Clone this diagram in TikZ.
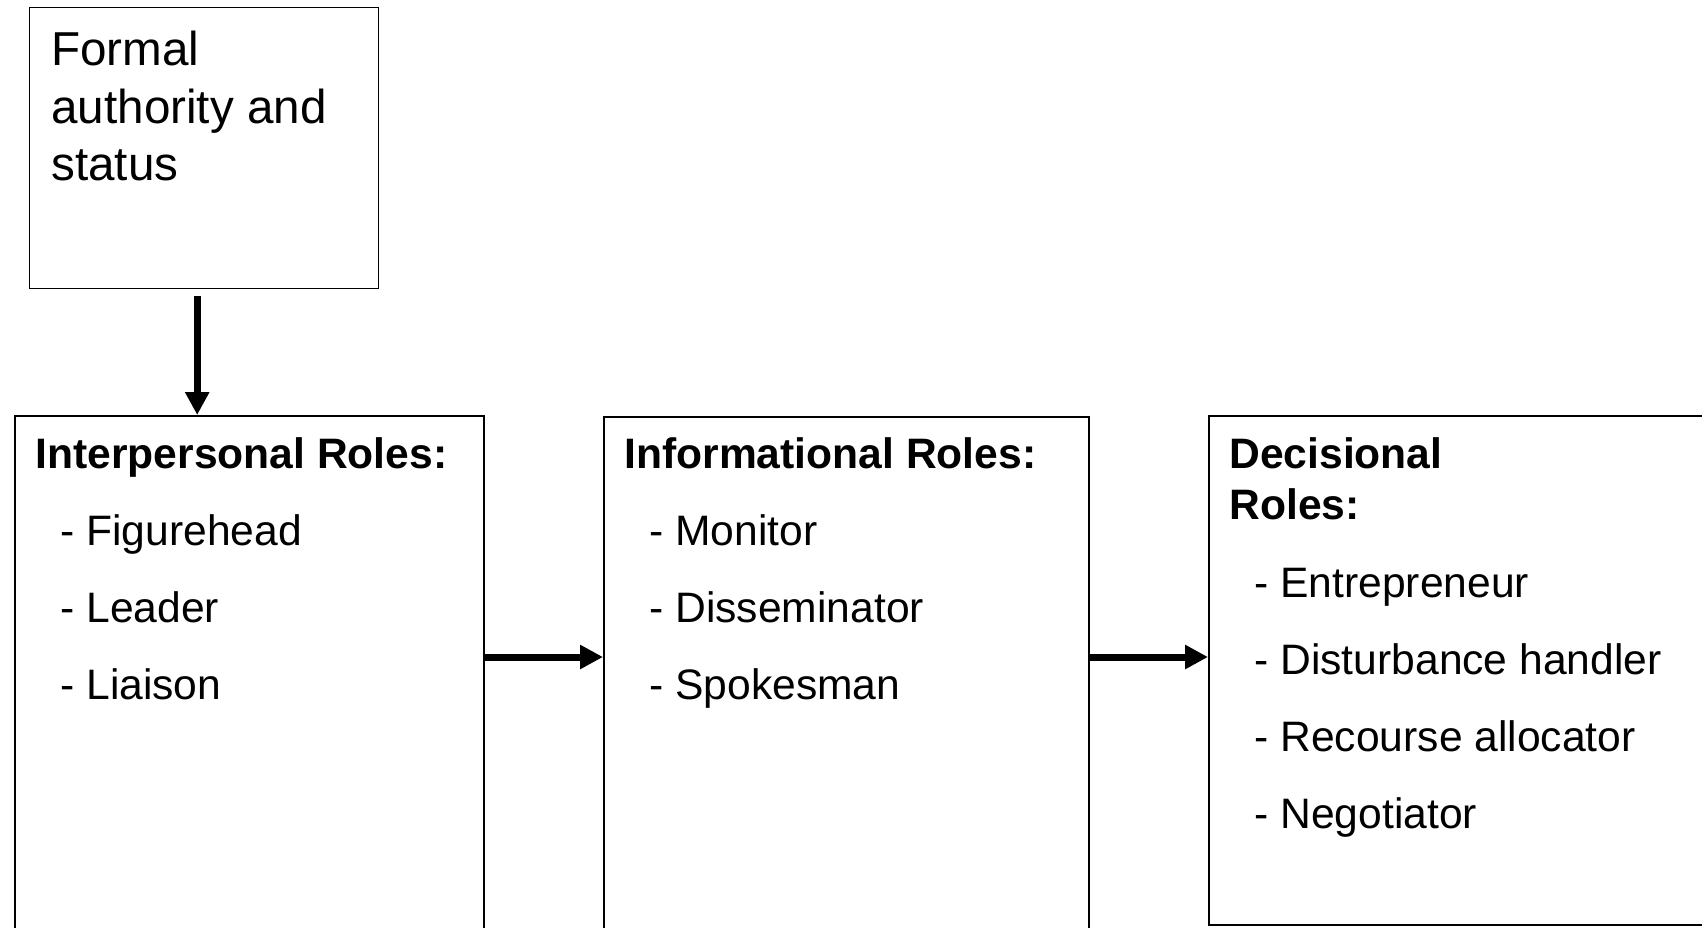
\documentclass[tikz,border=0pt]{standalone}
\usepackage{fontspec}
\setmainfont{Liberation Sans}
\usetikzlibrary{arrows.meta}
\tikzset{
  box/.style={draw, line width=0.85pt, rectangle, anchor=north west, inner sep=0pt},
  txt/.style={anchor=base west, inner sep=0pt, font=\fontsize{21.3pt}{26pt}\selectfont},
  ftxt/.style={anchor=base west, inner sep=0pt, font=\fontsize{23.8pt}{28pt}\selectfont},
  hd/.style={txt, font=\fontsize{21.3pt}{26pt}\selectfont\bfseries},
  arr/.style={line width=3.5pt, -{Triangle[length=11.5pt,width=11.5pt]}}
}
\begin{document}
\begin{tikzpicture}[x=0.5pt,y=-0.5pt]
\useasboundingbox (0,0) rectangle (1702,927);
\clip (0,0) rectangle (1702,927);

% boxes
\node[box, line width=0.7pt, minimum width=174.5pt, minimum height=140.5pt] (formal) at (29,7) {};
\node[box, minimum width=234.5pt, minimum height=280pt] (b1) at (14,415) {};
\node[box, minimum width=242.5pt, minimum height=280pt] (b2) at (603,416) {};
\node[box, minimum width=256pt, minimum height=254.5pt] (b3) at (1208,415) {};

% formal text
\node[ftxt] (f1) at (51,65) {Formal};
\node[ftxt] (f2) at (51,123) {authority and};
\node[ftxt] (f3) at (51,180) {status};

% box 1 text
\node[hd] (h1) at (35,468) {Interpersonal Roles:};
\node[txt] (i11) at (60,545) {- Figurehead};
\node[txt] (i12) at (60,622) {- Leader};
\node[txt] (i13) at (60,699) {- Liaison};

% box 2 text
\node[hd] (h2) at (624,468) {Informational Roles:};
\node[txt] (i21) at (649,545) {- Monitor};
\node[txt] (i22) at (649,622) {- Disseminator};
\node[txt] (i23) at (649,699) {- Spokesman};

% box 3 text
\node[hd] (h3a) at (1229,468) {Decisional};
\node[hd] (h3b) at (1229,519) {Roles:};
\node[txt] (i31) at (1254,597) {- Entrepreneur};
\node[txt] (i32) at (1254,674) {- Disturbance handler};
\node[txt] (i33) at (1254,751) {- Recourse allocator};
\node[txt] (i34) at (1254,828) {- Negotiator};

% connectors
\draw[arr] ([shift={(-7,7)}]formal.south) coordinate (v0) -- (v0 |- b1.north);
\coordinate (a1) at ([yshift=-121pt]b1.north east);
\draw[arr] (a1) -- (a1 -| b2.west);
\coordinate (a2) at ([yshift=-120.5pt]b2.north east);
\draw[arr] (a2) -- (a2 -| b3.west);
\end{tikzpicture}
\end{document}
